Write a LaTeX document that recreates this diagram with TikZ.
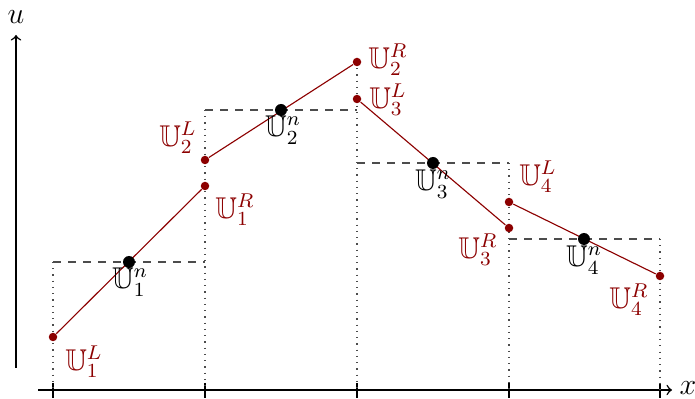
\documentclass[tikz,border=0pt]{standalone}
\usepackage{amssymb}
\definecolor{ured}{RGB}{140,0,0}
\begin{document}
\begin{tikzpicture}[x=0.4pt,y=-0.4pt,
  axis/.style={line width=0.6pt,->},
  tick/.style={line width=0.6pt},
  guide/.style={dotted,line width=0.5pt,black!70},
  mean/.style={dashed,line width=0.5pt,black!70},
  recon/.style={ured,line width=0.45pt},
  rdot/.style={circle,fill=ured,inner sep=0pt,minimum size=3.4pt},
  bdot/.style={circle,fill=black,inner sep=0pt,minimum size=4.8pt},
  rlab/.style={text=ured,inner sep=0pt,font=\large},
  blab/.style={text=black,inner sep=0pt,font=\large}]
\useasboundingbox (0,0) rectangle (695,399);
% axes
\coordinate (xs) at (38,390); \coordinate (xe) at (672,390);
\coordinate (ys) at (16,368); \coordinate (ye) at (16,35);
\draw[axis] (xs) -- (xe);
\draw[axis] (ys) -- (ye);
\node[inner sep=0pt,font=\large] (xl) at (688,388) {$x$};
\node[inner sep=0pt,font=\large] (ul) at (16,17) {$u$};
% ticks and guides
\foreach \x/\t in {53/262,205/110,357/62,509/163,660/239}{
  \coordinate (tb\x) at (\x,383); \coordinate (tt\x) at (\x,398);
  \draw[tick] (tb\x) -- (tt\x);
  \coordinate (gt\x) at (\x,\t); \coordinate (gb\x) at (\x,390);
  \draw[guide] (gt\x) -- (gb\x);
}
% cell means (dashed)
\coordinate (m1a) at (53,262); \coordinate (m1b) at (205,262);
\coordinate (m2a) at (205,110); \coordinate (m2b) at (357,110);
\coordinate (m3a) at (357,163); \coordinate (m3b) at (509,163);
\coordinate (m4a) at (509,239); \coordinate (m4b) at (660,239);
\draw[mean] (m1a) -- (m1b);
\draw[mean] (m2a) -- (m2b);
\draw[mean] (m3a) -- (m3b);
\draw[mean] (m4a) -- (m4b);
% reconstructed values
\node[rdot] (L1) at (53,337) {};
\node[rdot] (R1) at (205,186) {};
\node[rdot] (L2) at (205,160) {};
\node[rdot] (R2) at (357,62) {};
\node[rdot] (L3) at (357,99) {};
\node[rdot] (R3) at (509,228) {};
\node[rdot] (L4) at (509,202) {};
\node[rdot] (R4) at (660,276) {};
\draw[recon] (L1) -- (R1);
\draw[recon] (L2) -- (R2);
\draw[recon] (L3) -- (R3);
\draw[recon] (L4) -- (R4);
\node[bdot] (N1) at (129,262) {};
\node[bdot] (N2) at (281,110) {};
\node[bdot] (N3) at (433,163) {};
\node[bdot] (N4) at (584,239) {};
% labels
\node[rlab] (tL1) at (84,362) {$\mathbb{U}_1^L$};
\node[blab] (tN1) at (130,282) {$\mathbb{U}_1^n$};
\node[rlab] (tR1) at (235,210) {$\mathbb{U}_1^R$};
\node[rlab] (tL2) at (178,138) {$\mathbb{U}_2^L$};
\node[blab] (tN2) at (283,130) {$\mathbb{U}_2^n$};
\node[rlab] (tR2) at (388,60) {$\mathbb{U}_2^R$};
\node[rlab] (tL3) at (388,100) {$\mathbb{U}_3^L$};
\node[blab] (tN3) at (433,184) {$\mathbb{U}_3^n$};
\node[rlab] (tR3) at (478,250) {$\mathbb{U}_3^R$};
\node[rlab] (tL4) at (538,177) {$\mathbb{U}_4^L$};
\node[blab] (tN4) at (584,260) {$\mathbb{U}_4^n$};
\node[rlab] (tR4) at (629,300) {$\mathbb{U}_4^R$};
\end{tikzpicture}
\end{document}
